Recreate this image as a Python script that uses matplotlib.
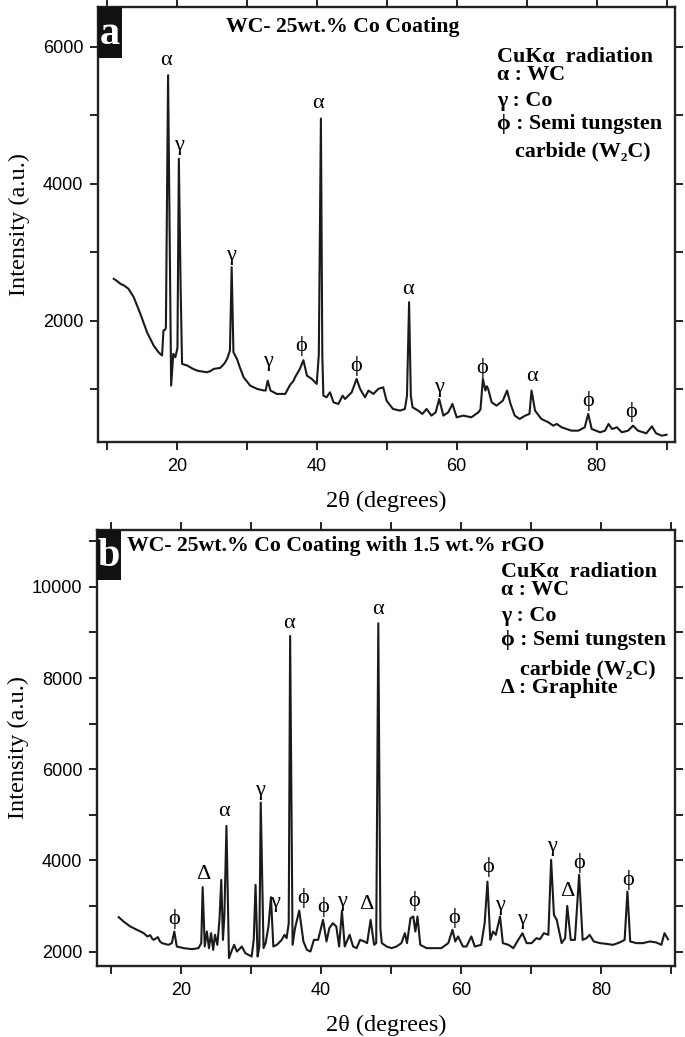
import matplotlib
matplotlib.use("Agg")
from matplotlib import pyplot as plt
from matplotlib.patches import Rectangle
from matplotlib.ticker import MultipleLocator

# panel a: WC-25wt.% Co coating
two_theta_a = [11.0, 11.5, 11.95, 12.5, 13.1, 13.85, 14.8, 15.75, 16.7, 17.4, 17.9, 18.1, 18.37, 18.45,
               18.76, 19.2, 19.5, 19.8, 20.1, 20.3, 20.55, 20.76, 21.5, 22.2, 22.9, 23.6, 24.3, 24.8,
               25.3, 26.2, 26.8, 27.2, 27.6, 27.85, 28.1, 28.6, 29.0, 29.56, 30.5, 31.5, 32.3, 32.7,
               33.0, 33.4, 34.3, 35.5, 36.2, 36.7, 36.9, 37.6, 38.1, 38.6, 39.3, 40.0, 40.3, 40.6,
               40.8, 40.95, 41.4, 41.9, 42.4, 43.1, 43.7, 44.05, 45.0, 45.7, 46.2, 46.9, 47.4, 48.1,
               48.8, 49.5, 49.98, 50.9, 51.9, 52.6, 52.9, 53.2, 53.45, 53.7, 54.5, 55.1, 55.7, 56.4,
               57.0, 57.5, 58.1, 58.8, 59.4, 60.0, 60.95, 62.1, 63.1, 63.4, 63.75, 64.1, 64.3, 64.5,
               65.0, 65.7, 66.6, 67.2, 67.7, 68.3, 69.0, 69.8, 70.4, 70.7, 71.2, 72.1, 73.1, 73.8,
               74.3, 75.0, 75.7, 76.4, 77.4, 78.3, 78.8, 79.3, 80.5, 81.2, 81.7, 82.2, 82.9, 83.6,
               84.5, 85.2, 85.9, 87.1, 87.9, 88.5, 89.3, 90.0]
intensity_a = [2610, 2575, 2537, 2510, 2464, 2341, 2098, 1829, 1634, 1536, 1488, 1854, 1868, 1900,
               5587, 1048, 1512, 1463, 1600, 4367, 2500, 1366, 1342, 1300, 1268, 1255, 1244, 1260,
               1293, 1307, 1370, 1439, 1561, 2780, 1537, 1439, 1320, 1170, 1048, 1000, 980, 976,
               1121, 976, 927, 927, 1060, 1121, 1170, 1293, 1420, 1195, 1146, 1073, 1500, 4953,
               1500, 902, 878, 951, 804, 780, 902, 853, 951, 1146, 1000, 878, 976, 927,
               1000, 1024, 829, 707, 683, 707, 900, 2268, 900, 731, 683, 634, 707, 610,
               658, 853, 610, 658, 780, 585, 610, 585, 658, 700, 1146, 976, 1040, 1000,
               804, 756, 829, 976, 780, 610, 561, 610, 634, 976, 683, 561, 512, 463,
               488, 439, 414, 390, 390, 439, 634, 414, 366, 390, 488, 414, 439, 366,
               390, 463, 390, 351, 453, 351, 317, 330]

# panel b: WC-25wt.% Co coating with 1.5 wt.% rGO
two_theta_b = [11.1, 11.8, 12.76, 13.7, 14.67, 15.2, 15.6, 15.9, 16.1, 16.7, 17.0, 17.3, 18.2, 18.7,
               19.05, 19.4, 20.4, 21.6, 22.5, 22.9, 23.1, 23.4, 23.7, 24.0, 24.3, 24.6, 24.86, 25.2,
               25.5, 25.76, 26.0, 26.2, 26.5, 26.86, 27.3, 27.6, 28.0, 28.7, 29.2, 30.1, 30.4, 30.66,
               30.95, 31.2, 31.4, 31.8, 32.1, 32.5, 32.86, 33.2, 33.7, 34.4, 34.8, 35.1, 35.4, 35.6,
               35.95, 36.3, 36.9, 37.5, 38.0, 38.5, 39.0, 39.6, 40.3, 40.8, 41.2, 41.7, 42.2, 42.6,
               43.0, 43.4, 44.1, 44.6, 45.1, 45.6, 46.2, 46.6, 47.1, 47.6, 47.9, 48.2, 48.5, 48.7,
               49.4, 50.1, 50.8, 51.5, 52.0, 52.3, 52.8, 53.2, 53.5, 53.8, 54.2, 55.1, 56.0, 57.2,
               58.2, 58.8, 59.2, 59.6, 60.3, 60.8, 61.5, 61.99, 62.9, 63.4, 63.8, 64.2, 64.6, 64.99,
               65.6, 66.0, 66.8, 67.5, 68.2, 68.8, 69.4, 70.1, 70.8, 71.3, 71.86, 72.5, 72.9, 73.3,
               73.7, 74.4, 74.9, 75.2, 75.7, 76.3, 76.9, 77.4, 77.95, 78.4, 79.0, 79.9, 80.8, 81.76,
               82.7, 83.4, 83.8, 84.2, 85.1, 86.0, 86.99, 87.9, 88.65, 89.1, 89.6]
intensity_b = [2754, 2658, 2548, 2476, 2404, 2330, 2360, 2280, 2256, 2316, 2220, 2184, 2147, 2184,
               2439, 2110, 2074, 2052, 2074, 2184, 3412, 2110, 2439, 2074, 2403, 2037, 2367, 2147,
               2695, 3572, 2256, 2768, 4756, 1855, 2037, 2147, 2000, 2110, 1964, 1891, 2256, 3463,
               1891, 2110, 5268, 2074, 2184, 2548, 3192, 2110, 2147, 2256, 2367, 2293, 2621, 8923,
               2147, 2512, 2899, 2220, 2037, 2000, 2256, 2256, 2695, 2220, 2512, 2621, 2548, 2110,
               2891, 2110, 2367, 2110, 2074, 2256, 2220, 2184, 2695, 2147, 2184, 9202, 2500, 2184,
               2110, 2074, 2110, 2184, 2403, 2184, 2731, 2768, 2439, 2768, 2147, 2074, 2074, 2074,
               2184, 2476, 2220, 2330, 2110, 2110, 2330, 2110, 2147, 2622, 3535, 2256, 2439, 2366,
               2768, 2184, 2147, 2074, 2256, 2402, 2184, 2184, 2293, 2270, 2403, 2366, 4011, 2804,
               2695, 2184, 2293, 3002, 2256, 2256, 3682, 2256, 2293, 2366, 2220, 2184, 2168, 2147,
               2200, 2256, 3316, 2220, 2184, 2184, 2220, 2200, 2147, 2403, 2270]

# peak markers: (2theta, intensity, symbol)
peaks_a_x = [18.5, 20.3, 27.8, 33.1, 37.8, 40.2, 45.6, 53.1, 57.5, 63.7, 70.7, 78.8, 85.0]
peaks_a_y = [5807, 4562, 2952, 1404, 1634, 5173, 1341, 2449, 1024, 1307, 1180, 829, 657]
peaks_a_s = ["α", "γ", "γ", "γ", "ϕ", "α", "ϕ", "α", "γ", "ϕ", "α", "ϕ", "ϕ"]

peaks_b_x = [18.96, 23.2, 26.1, 31.3, 33.5, 35.5, 37.4, 40.3, 42.96, 46.5, 48.2, 53.3, 59.0,
             63.9, 65.6, 68.8, 72.96, 75.2, 76.9, 83.9]
peaks_b_y = [2711, 3682, 5083, 5529, 3083, 9206, 3171, 2987, 3097, 3024, 9493, 3118, 2746,
             3864, 3002, 2711, 4303, 3316, 3938, 3572]
peaks_b_s = ["ϕ", "Δ", "α", "γ", "γ", "α", "ϕ", "ϕ", "γ", "Δ", "α", "ϕ", "ϕ",
             "ϕ", "γ", "γ", "γ", "Δ", "ϕ", "ϕ"]

title_a = "WC- 25wt.% Co Coating"
title_b = "WC- 25wt.% Co Coating with 1.5 wt.% rGO"
legend_a = ["CuKα  radiation", "α : WC", "γ : Co", "ϕ : Semi tungsten", "carbide (W₂C)"]
legend_b = legend_a + ["Δ : Graphite"]

serif = ["Liberation Serif", "DejaVu Serif"]
plt.rcParams["font.family"] = ["Liberation Sans", "DejaVu Sans"]

fig = plt.figure(figsize=(6.85, 10.37), dpi=100)
ax_a = fig.add_axes([0.1431, 0.5735, 0.8423, 0.4195])
ax_b = fig.add_axes([0.1416, 0.0688, 0.8438, 0.4202])


def style(ax, xlim, ylim):
    ax.set_xlim(*xlim)
    ax.set_ylim(*ylim)
    ax.xaxis.set_major_locator(MultipleLocator(20))
    ax.xaxis.set_minor_locator(MultipleLocator(10))
    ax.yaxis.set_major_locator(MultipleLocator(2000))
    ax.yaxis.set_minor_locator(MultipleLocator(1000))
    ax.tick_params(which="both", direction="out", top=True, right=True,
                   length=5.5, width=1.4, labelsize=13, color="#222222")
    ax.tick_params(axis="x", pad=6)
    ax.tick_params(axis="y", pad=5)
    for s in ax.spines.values():
        s.set_linewidth(1.7)
        s.set_color("#222222")
    ax.set_xlabel("2θ (degrees)", family=serif, fontsize=17.5)
    ax.set_ylabel("Intensity (a.u.)", family=serif, fontsize=17.5)
    ax.xaxis.set_label_coords(0.5, -0.112)
    ax.yaxis.set_label_coords(-0.118, 0.5)


def panel_tag(ax, letter, y0):
    ax.add_patch(Rectangle((0, y0), 0.042, 1 - y0, transform=ax.transAxes,
                           facecolor="#111111", edgecolor="none", zorder=5))
    ax.text(0.021, (1 + y0) / 2 - 0.004, letter, transform=ax.transAxes, color="white",
            ha="center", va="center", fontsize=29, fontweight="bold", family=serif, zorder=6)


# panel a
ax_a.plot(two_theta_a, intensity_a, color="#1a1a1a", lw=1.5)
style(ax_a, (8.75, 91.2), (220, 6580))
panel_tag(ax_a, "a", 0.883)
for x, y, s in zip(peaks_a_x, peaks_a_y, peaks_a_s):
    ax_a.text(x, y, s, ha="center", va="center", fontsize=16, family=serif)
ax_a.text(0.2215, 0.955, title_a, transform=ax_a.transAxes, ha="left", va="center",
          fontsize=15.7, fontweight="bold", family=serif)
leg_y_a = [0.886, 0.844, 0.785, 0.732, 0.668]
for i, (line, ly) in enumerate(zip(legend_a, leg_y_a)):
    lx = 0.723 if i == 4 else 0.692
    ax_a.text(lx, ly, line, transform=ax_a.transAxes, ha="left", va="center",
              fontsize=15.8, fontweight="bold", family=serif)

# panel b
ax_b.plot(two_theta_b, intensity_b, color="#1a1a1a", lw=1.5)
style(ax_b, (8.0, 90.6), (1690, 11250))
panel_tag(ax_b, "b", 0.884)
for x, y, s in zip(peaks_b_x, peaks_b_y, peaks_b_s):
    ax_b.text(x, y, s, ha="center", va="center", fontsize=16, family=serif)
ax_b.text(0.0512, 0.962, title_b, transform=ax_b.transAxes, ha="left", va="center",
          fontsize=15.7, fontweight="bold", family=serif)
leg_y_b = [0.904, 0.861, 0.803, 0.748, 0.680, 0.637]
for i, (line, ly) in enumerate(zip(legend_b, leg_y_b)):
    lx = 0.731 if i == 4 else 0.699
    ax_b.text(lx, ly, line, transform=ax_b.transAxes, ha="left", va="center",
              fontsize=15.8, fontweight="bold", family=serif)

fig.savefig("out.png", dpi=100)
